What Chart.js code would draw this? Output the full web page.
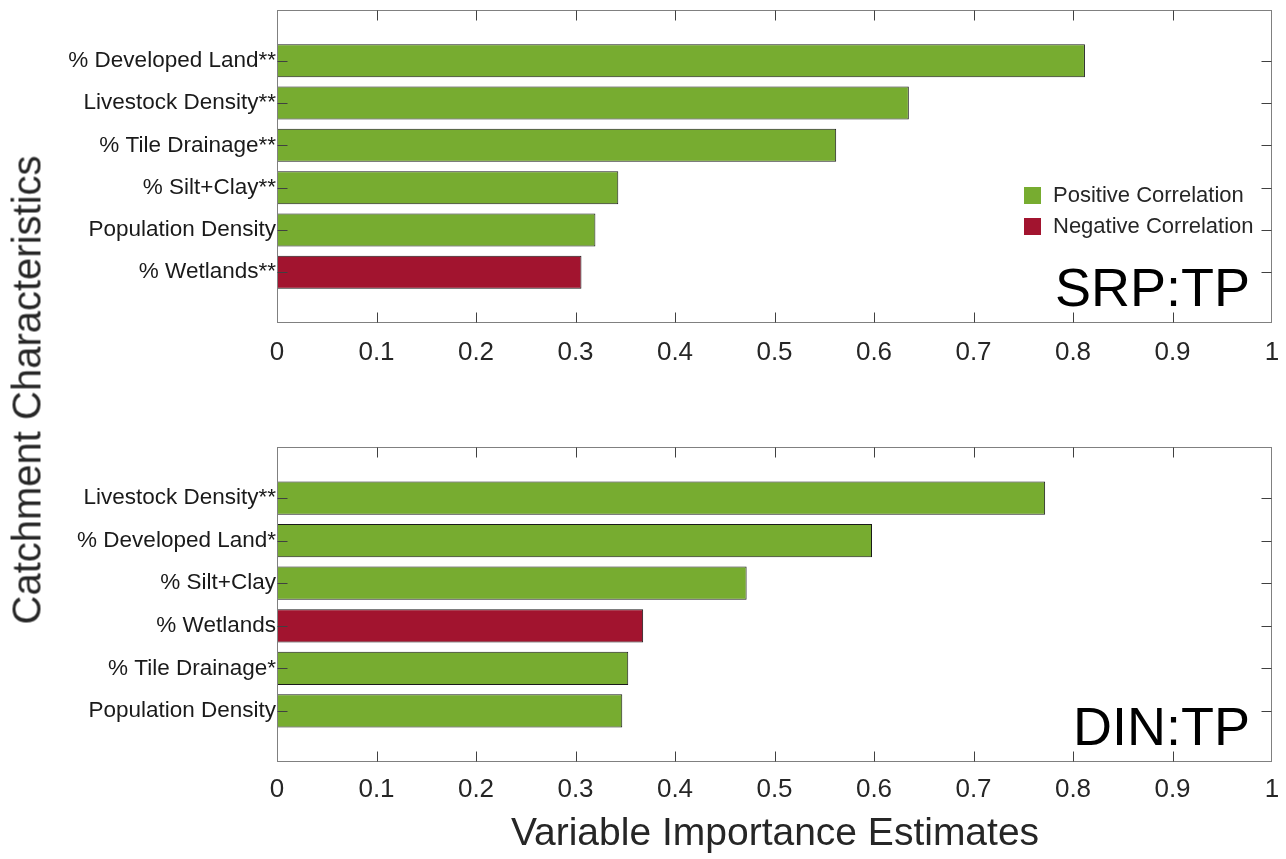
<!DOCTYPE html>
<html>
<head>
<meta charset="utf-8">
<script src="https://cdn.jsdelivr.net/npm/chart.js@4"></script>
<style>
body { margin: 0; background: #fff; width: 1286px; height: 859px; position: relative; overflow: hidden;
       font-family: "Liberation Sans", Arial, sans-serif; }
.box { position: absolute; left: 0; width: 1286px; height: 420px; }
#ytitle { position: absolute; left: 27px; top: 390px; transform: translate(-50%, -50%) rotate(-90deg);
          font-size: 40px; color: #262626; white-space: nowrap; }
#xtitle { position: absolute; left: 775px; top: 832px; transform: translate(-50%, -50%);
          font-size: 39px; color: #262626; white-space: nowrap; }
</style>
</head>
<body>
<div class="box" style="top:0"><canvas id="srp"></canvas></div>
<div class="box" style="top:437px"><canvas id="din"></canvas></div>
<div id="ytitle">Catchment Characteristics</div>
<div id="xtitle">Variable Importance Estimates</div>
<script>
// SRP:TP panel
var srpLabels = ["% Developed Land**", "Livestock Density**", "% Tile Drainage**", "% Silt+Clay**", "Population Density", "% Wetlands**"];
var srpValues = [0.812, 0.635, 0.562, 0.343, 0.320, 0.306];
var srpSigns  = ["+", "+", "+", "+", "+", "-"];

// DIN:TP panel
var dinLabels = ["Livestock Density**", "% Developed Land*", "% Silt+Clay", "% Wetlands", "% Tile Drainage*", "Population Density"];
var dinValues = [0.772, 0.598, 0.472, 0.368, 0.353, 0.347];
var dinSigns  = ["+", "+", "+", "-", "+", "+"];

var xTicks = [0, 0.1, 0.2, 0.3, 0.4, 0.5, 0.6, 0.7, 0.8, 0.9, 1];
var legendNames = ["Positive Correlation", "Negative Correlation"];

var GREEN = "#77AC30", RED = "#A2142F";
var FONT = '"Liberation Sans", Arial, sans-serif';

Chart.defaults.font.family = FONT;
Chart.defaults.color = "#262626";

// box, inward ticks, panel name and (optionally) legend
var framePlugin = {
  id: "frame",
  afterDraw: function (chart) {
    var ctx = chart.ctx, a = chart.chartArea;
    var xs = chart.scales.x, ys = chart.scales.y;
    var o = chart.options.plugins.frame;
    ctx.save();
    ctx.strokeStyle = "#808080";
    ctx.lineWidth = 1;
    var L = Math.round(a.left) + 0.5, R = Math.round(a.right) - 0.5;
    var T = Math.round(a.top) + 0.5, B = Math.round(a.bottom) - 0.5;
    ctx.strokeRect(L, T, R - L, B - T);
    ctx.strokeStyle = "#404040";
    ctx.beginPath();
    xs.ticks.forEach(function (t) {
      if (t.value <= 0 || t.value >= 1) return;
      var px = Math.round(xs.getPixelForValue(t.value)) + 0.5;
      ctx.moveTo(px, B); ctx.lineTo(px, B - 10);
      ctx.moveTo(px, T); ctx.lineTo(px, T + 10);
    });
    ys.ticks.forEach(function (t) {
      var py = Math.round(ys.getPixelForValue(t.value)) + 0.5;
      ctx.moveTo(L, py); ctx.lineTo(L + 10, py);
      ctx.moveTo(R, py); ctx.lineTo(R - 10, py);
    });
    ctx.stroke();

    ctx.fillStyle = "#000";
    ctx.font = "54px " + FONT;
    ctx.textAlign = "right";
    ctx.textBaseline = "alphabetic";
    ctx.fillText(o.name, a.right - 22, a.bottom - 17);

    if (o.legend) {
      ctx.font = "22px " + FONT;
      ctx.textAlign = "left";
      ctx.textBaseline = "middle";
      [GREEN, RED].forEach(function (c, i) {
        var cy = a.top + 185 + i * 31;
        ctx.fillStyle = c;
        ctx.fillRect(a.right - 248, cy - 8, 17, 17);
        ctx.fillStyle = "#262626";
        ctx.fillText(legendNames[i], a.right - 219, cy + 1);
      });
    }
    ctx.restore();
  }
};

function makeChart(id, labels, values, signs, name, plotH, legend, tickPad) {
  var pts = values.map(function (v, i) { return { x: v, y: i + 1 }; });
  var colors = signs.map(function (s) { return s === "+" ? GREEN : RED; });
  return new Chart(document.getElementById(id), {
    type: "bar",
    data: {
      datasets: [{
        data: pts,
        backgroundColor: colors,
        borderColor: "#1a1a1a",
        borderWidth: 1,
        borderSkipped: false,
        barPercentage: 0.78,
        categoryPercentage: 1
      }]
    },
    options: {
      indexAxis: "y",
      responsive: true,
      maintainAspectRatio: false,
      animation: false,
      layout: { padding: { left: 0, right: 14, top: 10, bottom: 0 } },
      plugins: {
        legend: { display: false },
        tooltip: { enabled: false },
        frame: { name: name, legend: legend }
      },
      scales: {
        x: {
          type: "linear",
          min: 0,
          max: 1,
          offset: false,
          grid: { display: false, drawTicks: false },
          border: { display: false },
          afterBuildTicks: function (s) { s.ticks = xTicks.map(function (v) { return { value: v }; }); },
          afterFit: function (s) {
            s.height = 420 - 10 - plotH;
            s.paddingLeft = 0; s.paddingRight = 0;
          },
          ticks: {
            padding: tickPad,
            font: { size: 26 },
            color: "#262626",
            maxRotation: 0,
            callback: function (v) { return String(v); }
          }
        },
        y: {
          type: "linear",
          min: -0.2,
          max: labels.length + 1.2,
          reverse: true,
          offset: false,
          grid: { display: false, drawTicks: false },
          border: { display: false },
          afterBuildTicks: function (s) { s.ticks = labels.map(function (_, i) { return { value: i + 1 }; }); },
          afterFit: function (s) {
            s.width = 277;
            s.paddingTop = 0; s.paddingBottom = 0;
          },
          ticks: {
            padding: 1,
            font: { size: 22.5 },
            color: "#1a1a1a",
            callback: function (v, i) { return labels[i]; }
          }
        }
      }
    },
    plugins: [framePlugin]
  });
}

makeChart("srp", srpLabels, srpValues, srpSigns, "SRP:TP", 313, true, 14);
makeChart("din", dinLabels, dinValues, dinSigns, "DIN:TP", 315, false, 12);
</script>
</body>
</html>
